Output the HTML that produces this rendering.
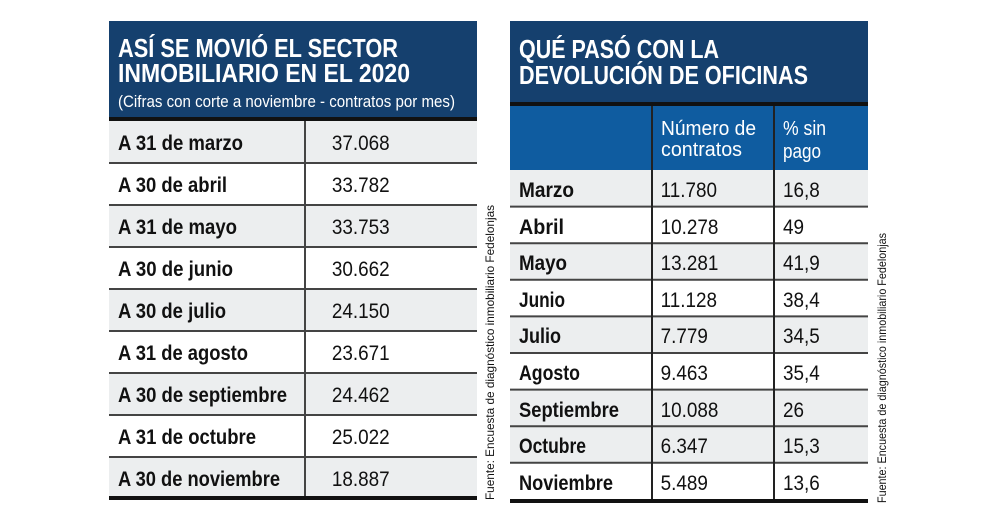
<!DOCTYPE html>
<html><head><meta charset="utf-8"><style>
html,body{margin:0;padding:0;background:#fff;}
svg{display:block;}
text{font-family:"Liberation Sans Narrow","Liberation Sans",sans-serif;}
.t{font-weight:bold;fill:#fff;font-size:26px;}
.l{font-weight:bold;fill:#111;font-size:21px;}
.n{fill:#111;font-size:21px;}
.s{fill:#111;font-size:12px;}
</style></head><body>
<svg width="1000" height="530" viewBox="0 0 1000 530" xmlns="http://www.w3.org/2000/svg">
<!-- LEFT TABLE -->
<rect x="109" y="21" width="368" height="97" fill="#15406e"/>
<rect x="109" y="117" width="368" height="4" fill="#111"/>
<text class="t" x="118" y="57" textLength="280" lengthAdjust="spacingAndGlyphs">ASÍ SE MOVIÓ EL SECTOR</text>
<text class="t" x="118" y="82" textLength="292" lengthAdjust="spacingAndGlyphs">INMOBILIARIO EN EL 2020</text>
<text x="118" y="107" fill="#fff" font-size="17" textLength="337" lengthAdjust="spacingAndGlyphs">(Cifras con corte a noviembre - contratos por mes)</text>
<g fill="#eceeef">
<rect x="109" y="121" width="368" height="42"/>
<rect x="109" y="205" width="368" height="42"/>
<rect x="109" y="289" width="368" height="42"/>
<rect x="109" y="373" width="368" height="42"/>
<rect x="109" y="457" width="368" height="40"/>
</g>
<g stroke="#444" stroke-width="2">
<line x1="109" x2="477" y1="163" y2="163"/><line x1="109" x2="477" y1="205" y2="205"/>
<line x1="109" x2="477" y1="247" y2="247"/><line x1="109" x2="477" y1="289" y2="289"/>
<line x1="109" x2="477" y1="331" y2="331"/><line x1="109" x2="477" y1="373" y2="373"/>
<line x1="109" x2="477" y1="415" y2="415"/><line x1="109" x2="477" y1="457" y2="457"/>
<line x1="305" x2="305" y1="121" y2="497"/>
</g>
<rect x="109" y="496" width="368" height="4" fill="#111"/>
<text class="l" x="118" y="150" textLength="125" lengthAdjust="spacingAndGlyphs">A 31 de marzo</text>
<text class="l" x="118" y="192" textLength="109" lengthAdjust="spacingAndGlyphs">A 30 de abril</text>
<text class="l" x="118" y="234" textLength="119" lengthAdjust="spacingAndGlyphs">A 31 de mayo</text>
<text class="l" x="118" y="276" textLength="115" lengthAdjust="spacingAndGlyphs">A 30 de junio</text>
<text class="l" x="118" y="318" textLength="108" lengthAdjust="spacingAndGlyphs">A 30 de julio</text>
<text class="l" x="118" y="360" textLength="130" lengthAdjust="spacingAndGlyphs">A 31 de agosto</text>
<text class="l" x="118" y="402" textLength="169" lengthAdjust="spacingAndGlyphs">A 30 de septiembre</text>
<text class="l" x="118" y="444" textLength="138" lengthAdjust="spacingAndGlyphs">A 31 de octubre</text>
<text class="l" x="118" y="486" textLength="162" lengthAdjust="spacingAndGlyphs">A 30 de noviembre</text>
<g text-anchor="end" transform="scale(0.9,1)">
<text class="n" x="433" y="150">37.068</text>
<text class="n" x="433" y="192">33.782</text>
<text class="n" x="433" y="234">33.753</text>
<text class="n" x="433" y="276">30.662</text>
<text class="n" x="433" y="318">24.150</text>
<text class="n" x="433" y="360">23.671</text>
<text class="n" x="433" y="402">24.462</text>
<text class="n" x="433" y="444">25.022</text>
<text class="n" x="433" y="486">18.887</text>
</g>
<text class="s" transform="translate(494,500) rotate(-90)" textLength="295" lengthAdjust="spacingAndGlyphs">Fuente: Encuesta de diagnóstico inmobiliario Fedelonjas</text>

<!-- RIGHT TABLE -->
<rect x="510" y="21" width="358" height="82" fill="#15406e"/>
<rect x="510" y="102" width="358" height="4" fill="#111"/>
<rect x="510" y="106" width="358" height="64" fill="#0f5ca0"/>
<text class="t" x="519" y="58" textLength="200" lengthAdjust="spacingAndGlyphs">QUÉ PASÓ CON LA</text>
<text class="t" x="519" y="84" textLength="289" lengthAdjust="spacingAndGlyphs">DEVOLUCIÓN DE OFICINAS</text>
<text x="661" y="135" fill="#fff" font-size="20" textLength="95" lengthAdjust="spacingAndGlyphs">Número de</text>
<text x="661" y="156" fill="#fff" font-size="20" textLength="81" lengthAdjust="spacingAndGlyphs">contratos</text>
<text x="783" y="135" fill="#fff" font-size="20" textLength="43" lengthAdjust="spacingAndGlyphs">% sin</text>
<text x="783" y="158" fill="#fff" font-size="20" textLength="38" lengthAdjust="spacingAndGlyphs">pago</text>
<g fill="#eceeef">
<rect x="510" y="170" width="358" height="36.6"/>
<rect x="510" y="243.2" width="358" height="36.6"/>
<rect x="510" y="316.4" width="358" height="36.6"/>
<rect x="510" y="389.6" width="358" height="73.2"/>
</g>
<g stroke="#444" stroke-width="2">
<line x1="510" x2="868" y1="206.6" y2="206.6"/><line x1="510" x2="868" y1="243.2" y2="243.2"/>
<line x1="510" x2="868" y1="279.8" y2="279.8"/><line x1="510" x2="868" y1="316.4" y2="316.4"/>
<line x1="510" x2="868" y1="353" y2="353"/><line x1="510" x2="868" y1="389.6" y2="389.6"/>
<line x1="510" x2="868" y1="426.2" y2="426.2"/><line x1="510" x2="868" y1="462.8" y2="462.8"/>
</g>
<g stroke="#222" stroke-width="2">
<line x1="652" x2="652" y1="106" y2="500"/>
<line x1="774" x2="774" y1="106" y2="500"/>
</g>
<rect x="510" y="499" width="358" height="4" fill="#111"/>
<text class="l" x="519" y="197" textLength="55" lengthAdjust="spacingAndGlyphs">Marzo</text>
<text class="l" x="519" y="234" textLength="45" lengthAdjust="spacingAndGlyphs">Abril</text>
<text class="l" x="519" y="270" textLength="48" lengthAdjust="spacingAndGlyphs">Mayo</text>
<text class="l" x="519" y="307" textLength="46" lengthAdjust="spacingAndGlyphs">Junio</text>
<text class="l" x="519" y="343" textLength="42" lengthAdjust="spacingAndGlyphs">Julio</text>
<text class="l" x="519" y="380" textLength="61" lengthAdjust="spacingAndGlyphs">Agosto</text>
<text class="l" x="519" y="417" textLength="100" lengthAdjust="spacingAndGlyphs">Septiembre</text>
<text class="l" x="519" y="453" textLength="67" lengthAdjust="spacingAndGlyphs">Octubre</text>
<text class="l" x="519" y="490" textLength="94" lengthAdjust="spacingAndGlyphs">Noviembre</text>
<g transform="scale(0.9,1)">
<text class="n" x="734" y="197">11.780</text><text class="n" x="870" y="197">16,8</text>
<text class="n" x="734" y="234">10.278</text><text class="n" x="870" y="234">49</text>
<text class="n" x="734" y="270">13.281</text><text class="n" x="870" y="270">41,9</text>
<text class="n" x="734" y="307">11.128</text><text class="n" x="870" y="307">38,4</text>
<text class="n" x="734" y="343">7.779</text><text class="n" x="870" y="343">34,5</text>
<text class="n" x="734" y="380">9.463</text><text class="n" x="870" y="380">35,4</text>
<text class="n" x="734" y="417">10.088</text><text class="n" x="870" y="417">26</text>
<text class="n" x="734" y="453">6.347</text><text class="n" x="870" y="453">15,3</text>
<text class="n" x="734" y="490">5.489</text><text class="n" x="870" y="490">13,6</text>
</g>
<text class="s" transform="translate(886,503) rotate(-90)" textLength="270" lengthAdjust="spacingAndGlyphs">Fuente: Encuesta de diagnóstico inmobiliario Fedelonjas</text>
</svg>
</body></html>
